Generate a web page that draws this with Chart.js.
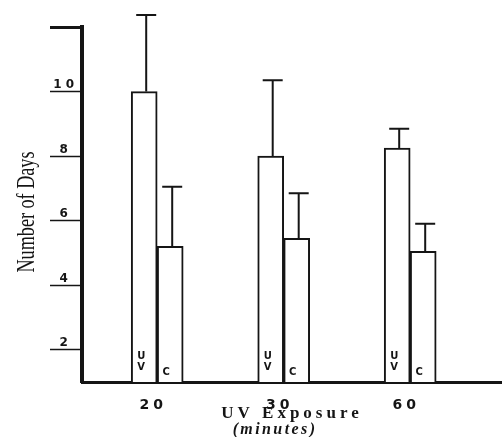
<!DOCTYPE html>
<html>
<head>
<meta charset="utf-8">
<script src="https://cdn.jsdelivr.net/npm/chart.js@4.4.0/dist/chart.umd.min.js"></script>
<style>
  html, body { margin: 0; padding: 0; background: #fff; }
  #wrap { width: 502px; height: 437px; }
</style>
</head>
<body>
<div id="wrap"><canvas id="uvChart"></canvas></div>
<script>
// Values
const exposureMinutes = ['20', '30', '60'];
const uvDays = [10.0, 8.0, 8.25];
const uvErrorTop = [12.37, 10.35, 8.85];
const controlDays = [5.2, 5.45, 5.05];
const controlErrorTop = [7.05, 6.85, 5.9];
const barTags = [['U', 'V'], ['C']];
const yTickValues = [2, 4, 6, 8, 10, 12];

const ink = '#151515';

// wide letter spacing like the scanned lettering
const spacingPlugin = {
  id: 'spacing',
  beforeUpdate(chart) { chart.ctx.letterSpacing = '4px'; },
  beforeDraw(chart) { chart.ctx.letterSpacing = '4px'; }
};

// upper error bars
const errorBarPlugin = {
  id: 'errorBars',
  afterDatasetsDraw(chart) {
    const ctx = chart.ctx;
    const yScale = chart.scales.y;
    const tops = [uvErrorTop, controlErrorTop];
    ctx.save();
    ctx.strokeStyle = ink;
    ctx.lineWidth = 2;
    chart.data.datasets.forEach((ds, i) => {
      chart.getDatasetMeta(i).data.forEach((bar, j) => {
        const yTop = yScale.getPixelForValue(tops[i][j]);
        ctx.beginPath();
        ctx.moveTo(bar.x + 2, bar.y);
        ctx.lineTo(bar.x + 2, yTop);
        ctx.moveTo(bar.x - 8, yTop);
        ctx.lineTo(bar.x + 12, yTop);
        ctx.stroke();
      });
    });
    ctx.restore();
  }
};

// "U V" and "C" written inside the bars
const barTagPlugin = {
  id: 'barTags',
  afterDatasetsDraw(chart) {
    const ctx = chart.ctx;
    const base = chart.scales.y.getPixelForValue(1);
    ctx.save();
    ctx.letterSpacing = '0px';
    ctx.fillStyle = ink;
    ctx.font = 'bold 10px "DejaVu Sans"';
    ctx.textAlign = 'center';
    ctx.textBaseline = 'middle';
    chart.data.datasets.forEach((ds, i) => {
      const tag = barTags[i];
      chart.getDatasetMeta(i).data.forEach(bar => {
        if (tag.length === 2) {
          ctx.fillText(tag[0], bar.x - 3, base - 26);
          ctx.fillText(tag[1], bar.x - 3, base - 15);
        } else {
          ctx.fillText(tag[0], bar.x - 4, base - 10);
        }
      });
    });
    ctx.restore();
  }
};

// narrow serif y title and the italic unit line
const titlesPlugin = {
  id: 'titles',
  afterDraw(chart) {
    const ctx = chart.ctx;
    const text = 'Number of Days';
    ctx.save();
    ctx.letterSpacing = '0px';
    ctx.fillStyle = ink;
    ctx.font = '26px "Liberation Serif"';
    ctx.textAlign = 'center';
    ctx.textBaseline = 'middle';
    ctx.translate(27, 212);
    ctx.rotate(-Math.PI / 2);
    const w = ctx.measureText(text).width;
    ctx.scale(121 / w, 1);
    ctx.fillText(text, 0, 0);
    ctx.restore();

    ctx.save();
    ctx.letterSpacing = '2.4px';
    ctx.fillStyle = ink;
    ctx.font = 'italic bold 16px "Liberation Serif"';
    ctx.textAlign = 'center';
    ctx.textBaseline = 'middle';
    ctx.fillText('(minutes)', 275, 430);
    ctx.restore();
  }
};

new Chart(document.getElementById('uvChart'), {
  type: 'bar',
  data: {
    datasets: [
      {
        label: 'UV',
        data: uvDays.map((v, i) => ({ x: i, y: v })),
        backgroundColor: '#fff',
        borderColor: ink,
        borderWidth: 2,
        barThickness: 26
      },
      {
        label: 'C',
        data: controlDays.map((v, i) => ({ x: i, y: v })),
        backgroundColor: '#fff',
        borderColor: ink,
        borderWidth: 2,
        barThickness: 26
      }
    ]
  },
  options: {
    responsive: true,
    maintainAspectRatio: false,
    animation: false,
    layout: { padding: { top: 27, left: 0, right: 0, bottom: 0 } },
    plugins: {
      legend: { display: false },
      tooltip: { enabled: false }
    },
    scales: {
      x: {
        type: 'linear',
        min: -0.5945,
        max: 2.7257,
        offset: false,
        grid: { display: false, offset: false },
        border: { display: true, width: 3, color: ink },
        afterBuildTicks: scale => {
          scale.ticks = exposureMinutes.map((_, i) => ({ value: i }));
        },
        afterFit: scale => { scale.height = 55; },
        ticks: {
          callback: v => exposureMinutes[v],
          color: ink,
          font: { family: '"DejaVu Sans"', size: 14, weight: 'bold' },
          padding: 7,
          labelOffset: -4,
          maxRotation: 0,
          autoSkip: false
        },
        title: {
          display: true,
          text: 'UV Exposure',
          color: ink,
          font: { family: '"Liberation Serif"', size: 17, weight: 'bold', lineHeight: 1.2 },
          padding: { top: 0, bottom: 12.8 }
        }
      },
      y: {
        min: 1,
        max: 12,
        afterBuildTicks: scale => {
          scale.ticks = yTickValues.map(v => ({ value: v }));
        },
        afterFit: scale => { scale.width = 82; },
        grid: {
          drawOnChartArea: false,
          drawTicks: true,
          tickLength: 32,
          tickColor: ink,
          tickWidth: c => (c.tick && c.tick.value === 12 ? 3 : 1.5)
        },
        border: { display: true, width: 4, color: ink },
        ticks: {
          callback: v => (v === 12 ? '' : String(v)),
          color: ink,
          font: { family: '"DejaVu Sans"', size: 12, weight: 'bold' },
          crossAlign: 'center',
          padding: -28,
          labelOffset: -6.5
        }
      }
    }
  },
  plugins: [spacingPlugin, errorBarPlugin, barTagPlugin, titlesPlugin]
});
</script>
</body>
</html>
